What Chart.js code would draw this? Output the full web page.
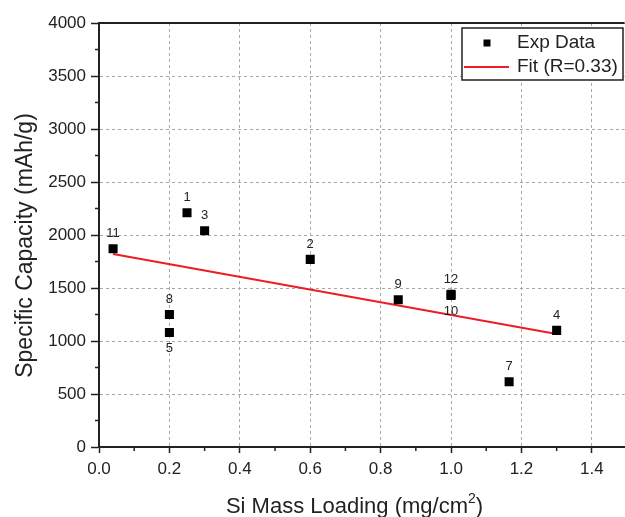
<!DOCTYPE html>
<html>
<head>
<meta charset="utf-8">
<script src="https://cdn.jsdelivr.net/npm/chart.js@4/dist/chart.umd.min.js"></script>
<style>
  html, body { margin: 0; padding: 0; background: #fff; overflow: hidden; }
  #wrap { width: 625px; height: 517px; overflow: hidden; }
  #capChart { display: block; }
</style>
</head>
<body>
<div id="wrap"><canvas id="capChart" width="625" height="517"></canvas></div>
<script>
// sample numbers and their values
const sampleLabels = ['1', '2', '3', '4', '5', '7', '8', '9', '10', '11', '12'];
const siLoading = [0.25, 0.6, 0.3, 1.3, 0.2, 1.165, 0.2, 0.85, 1.0, 0.04, 1.0];
const specCapacity = [2210, 1770, 2040, 1100, 1080, 615, 1250, 1390, 1430, 1870, 1440];
const labelsBelow = ['5', '10'];

// linear fit end points
const fitX = [0.04, 1.3];
const fitY = [1820, 1067];

const xTicks = [0, 0.2, 0.4, 0.6, 0.8, 1.0, 1.2, 1.4];
const yTicks = [0, 500, 1000, 1500, 2000, 2500, 3000, 3500, 4000];

const FONT = "'Liberation Sans', Arial, sans-serif";
const INK = '#222';
const FIT_RED = '#ee1c24';

// minor ticks, top frame, point numbers, legend, axis titles
const extrasPlugin = {
    id: 'extras',
    afterDraw(chart) {
        const ctx = chart.ctx;
        const area = chart.chartArea;
        const xs = chart.scales.x;
        const ys = chart.scales.y;
        ctx.save();

        // minor ticks
        ctx.strokeStyle = INK;
        ctx.lineWidth = 1.5;
        ctx.beginPath();
        for (let i = 0; i < xTicks.length; i++) {
            const px = xs.getPixelForValue(xTicks[i] + 0.1);
            if (px > area.right) continue;
            ctx.moveTo(px, area.bottom);
            ctx.lineTo(px, area.bottom + 4);
        }
        for (let i = 0; i < yTicks.length - 1; i++) {
            const py = ys.getPixelForValue(yTicks[i] + 250);
            ctx.moveTo(area.left, py);
            ctx.lineTo(area.left - 4, py);
        }
        ctx.stroke();

        // top frame
        ctx.lineWidth = 2;
        ctx.beginPath();
        ctx.moveTo(area.left, area.top);
        ctx.lineTo(area.right, area.top);
        ctx.stroke();

        // point numbers
        ctx.fillStyle = INK;
        ctx.font = '13px ' + FONT;
        ctx.textAlign = 'center';
        ctx.textBaseline = 'middle';
        const pts = chart.getDatasetMeta(0).data;
        pts.forEach((p, i) => {
            const lab = sampleLabels[i];
            const dy = labelsBelow.includes(lab) ? 16 : -15;
            ctx.fillText(lab, p.x, p.y + dy);
        });

        // legend box
        const bx = 462, by = 28, bw = 161, bh = 52;
        ctx.fillStyle = '#fff';
        ctx.fillRect(bx, by, bw, bh);
        ctx.strokeStyle = INK;
        ctx.lineWidth = 1.5;
        ctx.strokeRect(bx, by, bw, bh);
        ctx.fillStyle = '#000';
        ctx.fillRect(487 - 3.5, 43 - 3.5, 7, 7);
        ctx.strokeStyle = FIT_RED;
        ctx.lineWidth = 2;
        ctx.beginPath();
        ctx.moveTo(464, 67);
        ctx.lineTo(509, 67);
        ctx.stroke();
        ctx.fillStyle = INK;
        ctx.font = '19px ' + FONT;
        ctx.textAlign = 'left';
        ctx.fillText(chart.data.datasets[0].label, 517, 43);
        ctx.fillText(chart.data.datasets[1].label, 517, 67);

        // x title with superscript
        ctx.font = '22px ' + FONT;
        ctx.textBaseline = 'alphabetic';
        const t1 = 'Si Mass Loading (mg/cm';
        const t2 = '2';
        const t3 = ')';
        const w1 = ctx.measureText(t1).width;
        const w3 = ctx.measureText(t3).width;
        ctx.font = '14px ' + FONT;
        const w2 = ctx.measureText(t2).width;
        const total = w1 + w2 + w3;
        let tx = 354.5 - total / 2;
        ctx.font = '22px ' + FONT;
        ctx.fillText(t1, tx, 512.5);
        ctx.font = '14px ' + FONT;
        ctx.fillText(t2, tx + w1, 503);
        ctx.font = '22px ' + FONT;
        ctx.fillText(t3, tx + w1 + w2, 512.5);

        // y title
        ctx.translate(32, 245.5);
        ctx.rotate(-Math.PI / 2);
        ctx.textAlign = 'center';
        ctx.font = '23px ' + FONT;
        ctx.fillText('Specific Capacity (mAh/g)', 0, 0);

        ctx.restore();
    }
};

function makeChart() {
    const ctx = document.getElementById('capChart').getContext('2d');
    return new Chart(ctx, {
        type: 'scatter',
        data: {
            datasets: [
                {
                    label: 'Exp Data',
                    data: siLoading.map((v, i) => ({ x: v, y: specCapacity[i] })),
                    pointStyle: 'rect',
                    pointRadius: 6.4,
                    pointHoverRadius: 6.4,
                    backgroundColor: '#000',
                    borderColor: '#000',
                    borderWidth: 0,
                    showLine: false,
                },
                {
                    label: 'Fit (R=0.33)',
                    data: fitX.map((v, i) => ({ x: v, y: fitY[i] })),
                    showLine: true,
                    borderColor: FIT_RED,
                    borderWidth: 2,
                    pointRadius: 0,
                    fill: false,
                },
            ],
        },
        options: {
            responsive: false,
            animation: false,
            layout: {
                padding: { top: 23, left: 0, right: 0, bottom: 0 }
            },
            scales: {
                x: {
                    type: 'linear',
                    min: 0,
                    max: 1.493,
                    afterBuildTicks: (scale) => {
                        scale.ticks = xTicks.map(v => ({ value: v }));
                    },
                    afterFit: (scale) => {
                        scale.height = 70;
                        scale.paddingLeft = 0;
                        scale.paddingRight = 0;
                    },
                    ticks: {
                        color: INK,
                        font: { family: FONT, size: 17 },
                        padding: 6,
                        maxRotation: 0,
                        autoSkip: false,
                        callback: (v) => Number(v).toFixed(1)
                    },
                    grid: {
                        color: '#a8a8a8',
                        lineWidth: 1,
                        tickLength: 6,
                        tickColor: INK,
                        tickWidth: 1.5,
                        tickBorderDash: []
                    },
                    border: { color: INK, width: 2, dash: [3, 3] }
                },
                y: {
                    type: 'linear',
                    min: 0,
                    max: 4000,
                    afterBuildTicks: (scale) => {
                        scale.ticks = yTicks.map(v => ({ value: v }));
                    },
                    afterFit: (scale) => {
                        scale.width = 99;
                        scale.paddingTop = 0;
                        scale.paddingBottom = 0;
                    },
                    ticks: {
                        color: INK,
                        font: { family: FONT, size: 17 },
                        padding: 5,
                        autoSkip: false,
                        callback: (v) => String(v)
                    },
                    grid: {
                        color: '#a8a8a8',
                        lineWidth: 1,
                        tickLength: 8,
                        tickColor: INK,
                        tickWidth: 1.5,
                        tickBorderDash: []
                    },
                    border: { color: INK, width: 2, dash: [3, 3] }
                }
            },
            plugins: {
                legend: { display: false },
                tooltip: { enabled: false }
            }
        },
        plugins: [extrasPlugin]
    });
}

let capChart = makeChart();

// the original plot runs off the right edge of the image: widen the canvas
// by the gap chart.js leaves on the right and let the wrapper clip it
const gap = Math.round(625 - capChart.chartArea.right);
if (gap > 0) {
    capChart.destroy();
    const cv = document.getElementById('capChart');
    cv.width = 625 + gap;
    cv.height = 517;
    capChart = makeChart();
}
</script>
</body>
</html>
